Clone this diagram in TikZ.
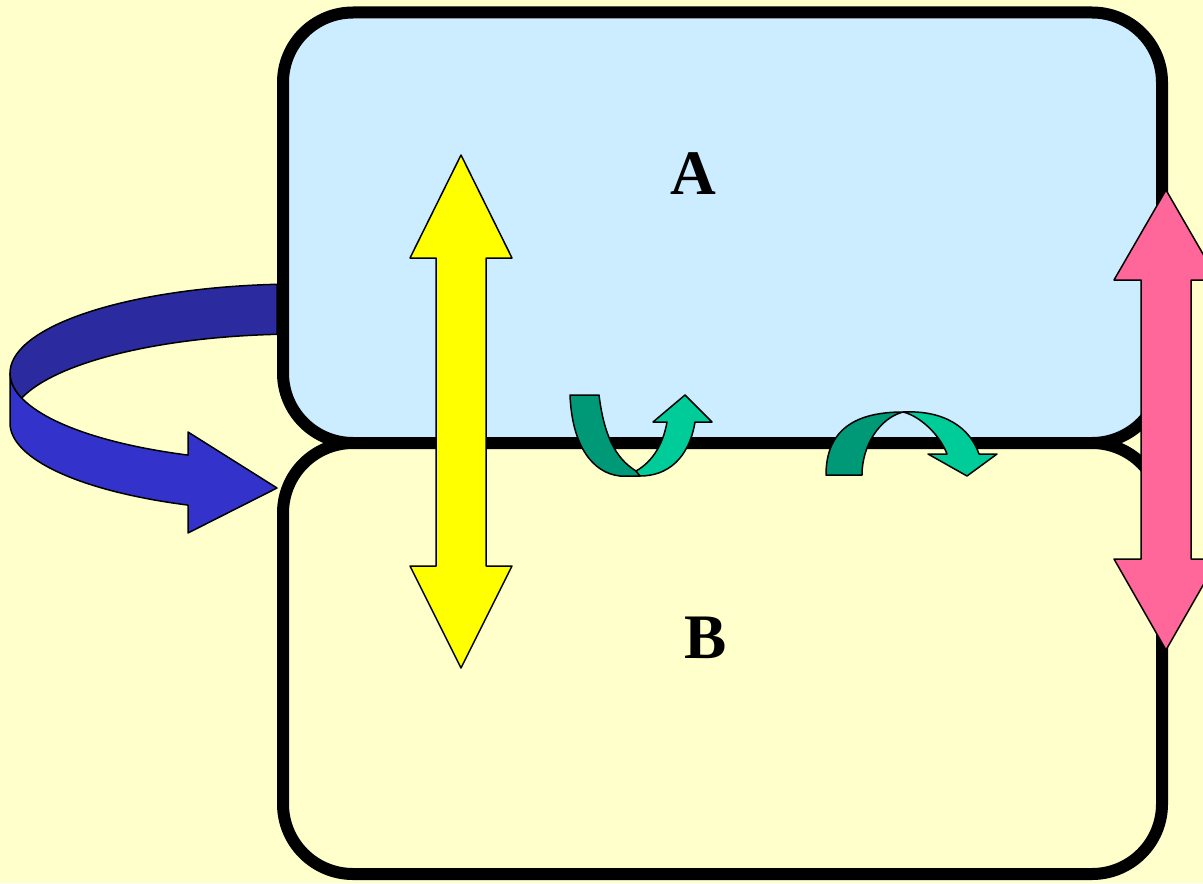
\documentclass[tikz,border=0pt]{standalone}
\usepackage{fontspec}
\setmainfont{Liberation Serif}
\definecolor{bgyellow}{HTML}{FFFFCC}
\definecolor{boxblue}{HTML}{CCECFF}
\definecolor{bluedark}{HTML}{2B2B9F}
\definecolor{bluelight}{HTML}{3333CC}
\definecolor{greendark}{HTML}{009977}
\definecolor{greenlight}{HTML}{00CC99}
\definecolor{pinkarrow}{HTML}{FF6699}
\definecolor{yellowarrow}{HTML}{FFFF00}
\tikzset{
  panel/.style={draw=black, line width=6pt, rounded corners=35pt},
  shapeline/.style={draw=black, line width=0.75pt, line join=round},
  biglabel/.style={font=\fontsize{31.7}{38}\selectfont\bfseries, inner sep=0pt}
}
\begin{document}
\begin{tikzpicture}[x=0.5pt,y=-0.5pt]
\useasboundingbox (0,0) rectangle (1203,883);
\clip (0,0) rectangle (1203,883);
\fill[bgyellow] (0,0) rectangle (1203,883);
% panels
\draw[panel, fill=boxblue] (283,12.5) rectangle (1162,443);
\draw[panel, fill=bgyellow] (283,443) rectangle (1162,874);
% labels
\node[biglabel] (labA) at (693,174) {A};
\node[biglabel] (labB) at (706,638) {B};
% blue curved arrow: front face
\path[shapeline, fill=bluelight] (10,373) -- (10,423)
  arc[start angle=180, end angle=112.72, x radius=290, y radius=89]
  -- (188,533) -- (277,488) -- (188,432) -- (188,455.1)
  arc[start angle=112.72, end angle=180, x radius=290, y radius=89] -- cycle;
% blue curved arrow: back face
\path[shapeline, fill=bluedark] (277,284.3)
  arc[start angle=265.45, end angle=163.68, x radius=290, y radius=89]
  arc[start angle=196.32, end angle=265.45, x radius=290, y radius=89] -- cycle;
% yellow double arrow
\path[shapeline, fill=yellowarrow] (461,155) -- (512,258) -- (486,258) -- (486,566)
  -- (512,566) -- (461,668) -- (410,566) -- (436,566) -- (436,258) -- (410,258) -- cycle;
% pink double arrow
\path[shapeline, fill=pinkarrow] (1166,190) -- (1218,280) -- (1191,280) -- (1191,559)
  -- (1218,559) -- (1166,650) -- (1114,559) -- (1141,559) -- (1141,280) -- (1114,280) -- cycle;
% green U-turn arrow
\path[shapeline, fill=greendark] (570,395) -- (599,395)
  .. controls (604,435) and (615,458) .. (636,471) -- (640,476) -- (620,476)
  .. controls (592,473) and (572,445) .. (570,395) -- cycle;
\path[shapeline, fill=greenlight] (636,471)
  .. controls (652,462) and (663,445) .. (667,422) -- (653,422) -- (685,395)
  -- (712,422) -- (695,422) .. controls (689,458) and (668,476) .. (640,476) -- cycle;
% green arch arrow
\path[shapeline, fill=greendark] (826,475)
  .. controls (826,430) and (855,412) .. (903,412)
  .. controls (880,418) and (862,445) .. (862,475) -- cycle;
\path[shapeline, fill=greenlight] (903,412)
  .. controls (945,410) and (970,428) .. (979,454) -- (997,454) -- (967,476)
  -- (928,454) -- (947,454) .. controls (940,435) and (920,416) .. (903,412) -- cycle;
\end{tikzpicture}
\end{document}
